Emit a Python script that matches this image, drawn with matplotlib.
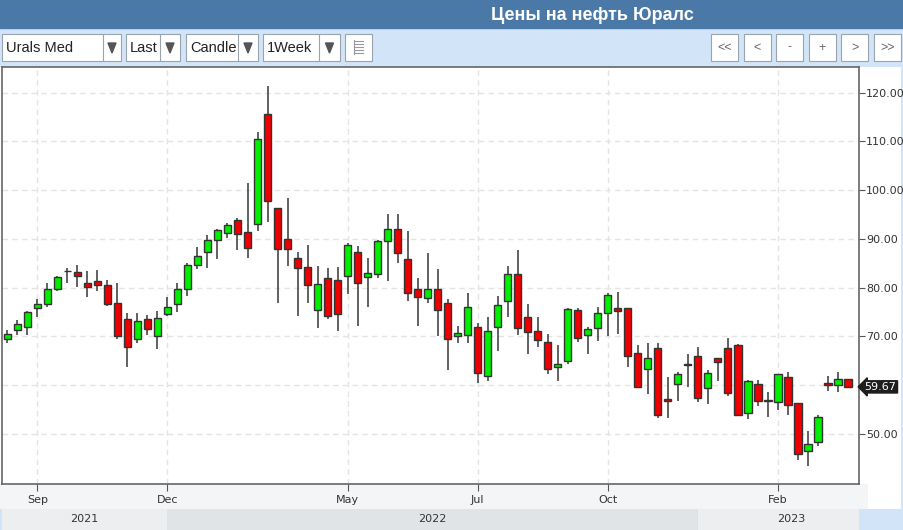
import matplotlib
matplotlib.use("Agg")
import matplotlib.pyplot as plt
from matplotlib.patches import Rectangle, Polygon
from matplotlib import transforms

# --- weekly OHLC, Urals Med ---
opens = [69.4, 71.3, 72.0, 75.9, 76.6, 79.7, 83.4, 83.3, 81.0, 81.3,
         80.5, 76.8, 73.5, 69.5, 73.5, 70.2, 74.6, 76.7, 79.7, 84.6,
         87.4, 89.8, 91.3, 93.8, 91.5, 93.1, 115.6, 96.4, 90.0, 86.1,
         84.3, 75.4, 82.0, 81.5, 82.5, 87.3, 82.3, 82.8, 89.6, 92.0,
         85.9, 79.7, 77.9, 79.7, 76.9, 70.0, 70.4, 72.0, 62.0, 72.0,
         77.3, 82.8, 74.1, 71.2, 68.9, 63.8, 65.0, 75.4, 70.4, 71.7,
         74.9, 75.8, 75.8, 66.7, 63.3, 67.7, 57.1, 60.2, 64.3, 66.1,
         59.5, 65.6, 67.6, 68.2, 54.4, 60.3, 56.9, 56.6, 61.7, 56.4,
         46.6, 48.4, 60.5, 60.0, 61.2]
highs = [71.3, 73.4, 75.3, 77.6, 81.0, 82.5, 84.0, 84.7, 83.4, 83.6,
         81.6, 81.0, 74.8, 74.8, 74.5, 75.2, 78.2, 81.0, 85.0, 88.3,
         90.9, 92.0, 93.3, 94.4, 101.4, 111.9, 121.4, 96.4, 98.5, 87.4,
         88.8, 84.5, 84.0, 84.2, 89.2, 88.6, 86.0, 89.8, 95.2, 95.2,
         91.6, 81.9, 87.1, 83.8, 77.6, 72.1, 79.0, 72.8, 73.9, 78.3,
         84.5, 87.7, 76.7, 73.9, 70.5, 68.3, 75.9, 75.9, 71.9, 76.0,
         78.9, 79.1, 75.8, 68.3, 68.7, 68.7, 61.6, 62.8, 66.5, 67.8,
         63.1, 65.6, 69.6, 68.5, 61.1, 61.1, 58.7, 62.4, 62.7, 56.4,
         50.6, 53.9, 61.9, 62.7, 61.2]
lows = [68.6, 70.4, 70.4, 74.1, 76.1, 79.4, 80.9, 80.2, 78.2, 79.4,
        76.3, 69.4, 63.8, 68.6, 70.4, 67.4, 74.2, 75.1, 78.3, 83.8,
        84.0, 85.8, 90.3, 87.7, 86.0, 91.7, 93.5, 76.9, 84.5, 74.3,
        76.8, 71.7, 73.5, 71.2, 78.8, 72.1, 76.0, 81.9, 81.4, 85.1,
        77.3, 72.1, 76.9, 70.0, 63.1, 68.6, 68.6, 60.4, 60.9, 67.0,
        74.1, 70.3, 66.5, 67.8, 62.4, 60.9, 64.3, 68.9, 66.5, 69.1,
        70.1, 70.6, 63.7, 59.4, 58.3, 53.2, 53.2, 56.8, 59.6, 56.6,
        56.1, 60.9, 57.7, 53.8, 53.1, 55.7, 53.4, 54.9, 54.0, 44.7,
        43.4, 47.5, 58.8, 58.6, 59.4]
closes = [70.6, 72.6, 75.1, 76.7, 79.7, 82.3, 83.4, 82.5, 80.2, 80.5,
          76.6, 70.0, 67.8, 73.2, 71.6, 73.8, 76.1, 79.7, 84.6, 86.6,
          89.7, 91.8, 92.8, 91.0, 88.2, 110.5, 97.7, 87.9, 87.9, 84.1,
          80.5, 80.8, 74.3, 74.6, 88.8, 81.0, 83.1, 89.5, 92.0, 87.2,
          79.0, 78.2, 79.7, 75.4, 69.5, 70.7, 76.1, 62.6, 71.2, 76.4,
          82.8, 71.8, 71.0, 69.3, 63.3, 64.3, 75.7, 69.6, 71.5, 74.9,
          78.5, 75.2, 66.1, 59.7, 65.6, 53.9, 56.7, 62.4, 64.1, 57.4,
          62.6, 64.8, 58.5, 53.8, 60.9, 56.8, 56.7, 62.3, 55.9, 45.8,
          47.9, 53.5, 60.0, 61.2, 59.67]

month_idx = [3, 16, 34, 47, 60, 77]
month_labels = ["Sep", "Dec", "May", "Jul", "Oct", "Feb"]
year_labels = ["2021", "2022", "2023"]
year_start_idx = [16, 69]          # first week shown in 2022 / 2023 band
y_ticks = [50, 60, 70, 80, 90, 100, 110, 120]

last_price = closes[-1]
change = -0.30
change_pct = -0.50

W, H = 904, 530
fig = plt.figure(figsize=(W / 100, H / 100), dpi=100)
fig.patch.set_facecolor("#d2e4f7")

# overlay in pixel units for the page chrome
bg = fig.add_axes([0, 0, 1, 1], zorder=0)
bg.set_xlim(0, W)
bg.set_ylim(H, 0)
bg.axis("off")

narrow = ["Liberation Sans Narrow", "Liberation Sans", "DejaVu Sans"]

# header bar
bg.add_patch(Rectangle((0, 0), W, 28, color="#4a79a8"))
bg.text(592, 15, "Цены на нефть Юралс", color="white", fontsize=13,
        fontweight="bold", family=narrow, ha="center", va="center")

# toolbar widgets
def dropdown(x0, x1, sep, label):
    bg.add_patch(Rectangle((x0, 34), x1 - x0, 27, fc="white", ec="#9aa4ae", lw=0.8))
    bg.plot([sep, sep], [34, 61], color="#9aa4ae", lw=0.8)
    bg.text(x0 + 4, 48, label, fontsize=10.5, family=narrow, color="#222",
            va="center", ha="left")
    tx = (sep + x1) / 2
    bg.add_patch(Polygon([[tx - 4, 43], [tx + 4, 43], [tx, 53]], color="#555"))

dropdown(2, 121, 103, "Urals Med")
dropdown(126, 180, 160, "Last")
dropdown(186, 258, 238, "Candle")
dropdown(263, 340, 319, "1Week")
bg.add_patch(Rectangle((345, 34), 27, 27, fc="white", ec="#9aa4ae", lw=0.8))
for k in range(5):
    bg.plot([354, 363], [41 + 3 * k, 41 + 3 * k], color="#999", lw=0.8)
bg.plot([354, 354], [40, 54], color="#999", lw=0.8)

nav = ["<<", "<", "-", "+", ">", ">>"]
for k, lab in enumerate(nav):
    x0 = 711 + k * 32.6
    bg.add_patch(Rectangle((x0, 34), 27, 27, fc="white", ec="#9aa4ae", lw=0.8))
    bg.text(x0 + 13.5, 47.5, lab, fontsize=9, family=narrow, color="#666",
            ha="center", va="center")

# chart container
bg.add_patch(Rectangle((0, 67), 901, 442, fc="white", ec="none"))
bg.add_patch(Rectangle((0, 484), 868, 25, fc="#f3f5f7", ec="none"))

# --- price panel ---
ax = fig.add_axes([2 / W, (H - 484) / H, 857 / W, (484 - 67) / H], zorder=1)
ax.set_facecolor("white")
ax.set_xlim(-0.53, 85.1)
ax.set_ylim(39.75, 125.27)

for v in y_ticks:
    ax.axhline(v, color="#e4e4e4", lw=1, ls=(0, (4, 3)), zorder=0)
for i in month_idx:
    ax.axvline(i, color="#e4e4e4", lw=1, ls=(0, (4, 3)), zorder=0)

xs = list(range(len(opens)))
up_c, dn_c = "#00ee00", "#ee0000"
ax.vlines(xs, lows, highs, color="#555555", lw=1.3, zorder=2)
bottoms = [min(o, c) for o, c in zip(opens, closes)]
heights = [max(abs(c - o), 0.12) for o, c in zip(opens, closes)]
colors = [up_c if c >= o else dn_c for o, c in zip(opens, closes)]
ax.bar(xs, heights, bottom=bottoms, width=0.72, color=colors,
       edgecolor="#333333", linewidth=1, zorder=3)

ax.yaxis.tick_right()
ax.set_yticks(y_ticks)
ax.set_yticklabels(["" if v == 60 else f"{v:.2f}" for v in y_ticks])
ax.set_xticks(month_idx)
ax.set_xticklabels(month_labels)
ax.tick_params(axis="y", direction="out", length=4, color="#555",
               labelsize=8, labelcolor="#333", pad=1)
ax.tick_params(axis="x", direction="out", length=5, color="#555",
               labelsize=8, labelcolor="#333", pad=3)
for s in ax.spines.values():
    s.set_color("#666666")
    s.set_linewidth(1.2)

# last price tag
ax.annotate(f"{last_price:.2f}", xy=(1.0, last_price),
            xycoords=("axes fraction", "data"), xytext=(4, 0),
            textcoords="offset points", ha="left", va="center",
            fontsize=8, color="white",
            bbox=dict(boxstyle="larrow,pad=0.1", fc="#1e1e1e", ec="#1e1e1e"),
            annotation_clip=False)

# legend line
bg.text(14, 79, "Urals Med", color="#4a86e8", fontsize=8, fontweight="bold",
        va="center", zorder=5)
bg.text(87, 79, f"{last_price:.2f}", color="#444444", fontsize=8,
        fontweight="bold", va="center", zorder=5)
bg.text(132, 79, f"{change:.2f}({change_pct:.2f}%)", color="#e84a2c",
        fontsize=8, fontweight="bold", va="center", zorder=5)

# year band under the axis, positioned from week indices
blend = transforms.blended_transform_factory(ax.transData, bg.transData)
edges = [-0.53] + year_start_idx + [85.1]
band_cols = ["#eceef0", "#e1e4e7", "#eceef0"]
for k, lab in enumerate(year_labels):
    x0, x1 = edges[k], edges[k + 1]
    if k < 2:
        x1 = x1 - 0.05
    bg.add_patch(Rectangle((x0, 509), x1 - x0, 21, fc=band_cols[k], ec="none",
                           transform=blend, clip_on=False))
    xc = (x0 + x1) / 2 if k < 2 else 78.3
    bg.text(xc, 519, lab, transform=blend, ha="center", va="center",
            fontsize=8, color="#333")

fig.savefig("out.png", dpi=100)
